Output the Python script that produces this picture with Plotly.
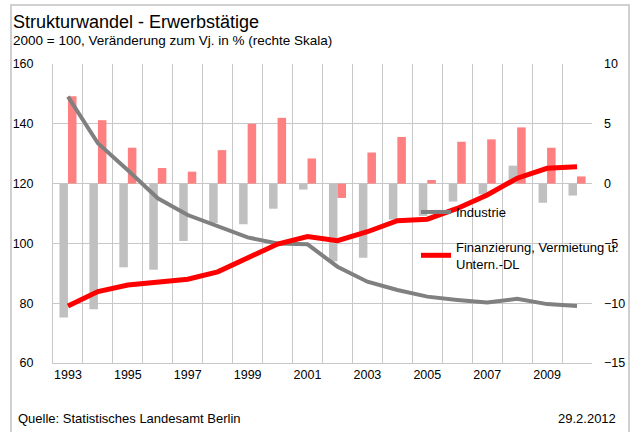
import plotly.graph_objects as go

years = list(range(1993, 2011))
tick_years = [1993, 1995, 1997, 1999, 2001, 2003, 2005, 2007, 2009]

# Index 2000 = 100 (left axis)
industrie_index = [149.1, 133.5, 124.5, 115.1, 109.5, 105.6, 102.0, 100.0, 99.7, 92.2,
                   87.2, 84.4, 82.2, 81.1, 80.2, 81.5, 79.7, 79.1]
finanz_index = [79.1, 83.9, 86.1, 87.2, 88.0, 90.5, 95.0, 99.8, 102.3, 100.9,
                103.9, 107.6, 108.1, 111.7, 116.2, 121.8, 125.1, 125.6]

# Change vs previous year in % (right axis)
industrie_change = [-11.2, -10.5, -7.0, -7.2, -4.8, -3.3, -3.4, -2.1, -0.5, -6.5,
                    -6.2, -3.0, -2.7, -1.5, -0.9, 1.5, -1.6, -1.0]
finanz_change = [7.3, 5.3, 3.0, 1.3, 1.0, 2.8, 5.0, 5.5, 2.1, -1.2,
                 2.6, 3.9, 0.3, 3.5, 3.7, 4.7, 3.0, 0.6]

W, H = 631, 432
L, R, T, B = 53, 592, 64, 363


def px(x):
    return (x - L) / (R - L)


def py(y):
    return (B - y) / (B - T)


FONT = "Liberation Sans, Arial, Helvetica, sans-serif"
GRID = "#c8c8c8"

fig = go.Figure()

fig.add_trace(go.Bar(x=years, y=industrie_change, marker_color="#c0c0c0",
                     marker_line_width=0, offsetgroup="a", showlegend=False,
                     yaxis="y", hoverinfo="skip"))
fig.add_trace(go.Bar(x=years, y=finanz_change, marker_color="#ff8080",
                     marker_line_width=0, offsetgroup="b", showlegend=False,
                     yaxis="y", hoverinfo="skip"))

fig.add_trace(go.Scatter(x=years, y=industrie_index, mode="lines", name="Industrie",
                         line=dict(color="#808080", width=4), yaxis="y2",
                         legendgroup="g1"))
fig.add_trace(go.Scatter(x=years, y=finanz_index, mode="lines",
                         name="Finanzierung, Vermietung u.<br>Untern.-DL",
                         line=dict(color="#ff0000", width=5), yaxis="y2",
                         legendgroup="g2"))

fig.update_layout(
    width=W, height=H,
    margin=dict(l=L, r=W - R, t=T, b=H - B, pad=0, autoexpand=False),
    paper_bgcolor="white", plot_bgcolor="white",
    font=dict(family=FONT, size=12.5, color="#000000"),
    barmode="group", bargap=0.43, bargroupgap=0,
    xaxis=dict(range=[1992.5, 2010.5], tickvals=tick_years, ticktext=[str(y) for y in tick_years],
               showgrid=False, zeroline=False, showline=True, linecolor=GRID, linewidth=1,
               ticks="", tickfont=dict(size=12.5), automargin=False,
               minor=dict(tick0=1992.5, dtick=1, showgrid=True, gridcolor=GRID, gridwidth=1)),
    yaxis=dict(range=[-15, 10], dtick=5, side="right", showgrid=True, gridcolor=GRID,
               zeroline=False, showline=False, ticks="", ticklabelstandoff=11,
               tickfont=dict(size=12.5), automargin=False),
    yaxis2=dict(range=[60, 160], dtick=20, side="left", overlaying="y", showgrid=False,
                zeroline=False, showline=True, linecolor=GRID, linewidth=1, ticks="",
                ticklabelstandoff=16, tickfont=dict(size=12.5), automargin=False),
    legend=dict(x=px(416), y=py(197), xanchor="left", yanchor="top",
                bgcolor="rgba(0,0,0,0)", font=dict(size=13), tracegroupgap=15,
                itemwidth=30),
    showlegend=True,
)

fig.add_shape(type="rect", xref="paper", yref="paper",
              x0=px(11), x1=px(629), y0=py(445), y1=py(5),
              line=dict(color="#d0d0d0", width=2), fillcolor="rgba(0,0,0,0)", layer="below")

fig.add_annotation(text="Strukturwandel - Erwerbstätige", xref="paper", yref="paper",
                   x=px(11), y=py(22), xanchor="left", yanchor="middle", showarrow=False,
                   font=dict(size=18, family=FONT, color="#000"))
fig.add_annotation(text="2000 = 100, Veränderung zum Vj. in % (rechte Skala)", xref="paper",
                   yref="paper", x=px(11), y=py(40), xanchor="left", yanchor="middle",
                   showarrow=False, font=dict(size=13.5, family=FONT, color="#000"))
fig.add_annotation(text="Quelle: Statistisches Landesamt Berlin", xref="paper", yref="paper",
                   x=px(16), y=py(419), xanchor="left", yanchor="middle", showarrow=False,
                   font=dict(size=13, family=FONT, color="#000"))
fig.add_annotation(text="29.2.2012", xref="paper", yref="paper",
                   x=px(618), y=py(419), xanchor="right", yanchor="middle", showarrow=False,
                   font=dict(size=13, family=FONT, color="#000"))

fig.write_html("out.html", config={"displayModeBar": False},
               post_script="document.body.style.margin='0';document.body.style.padding='0';")
